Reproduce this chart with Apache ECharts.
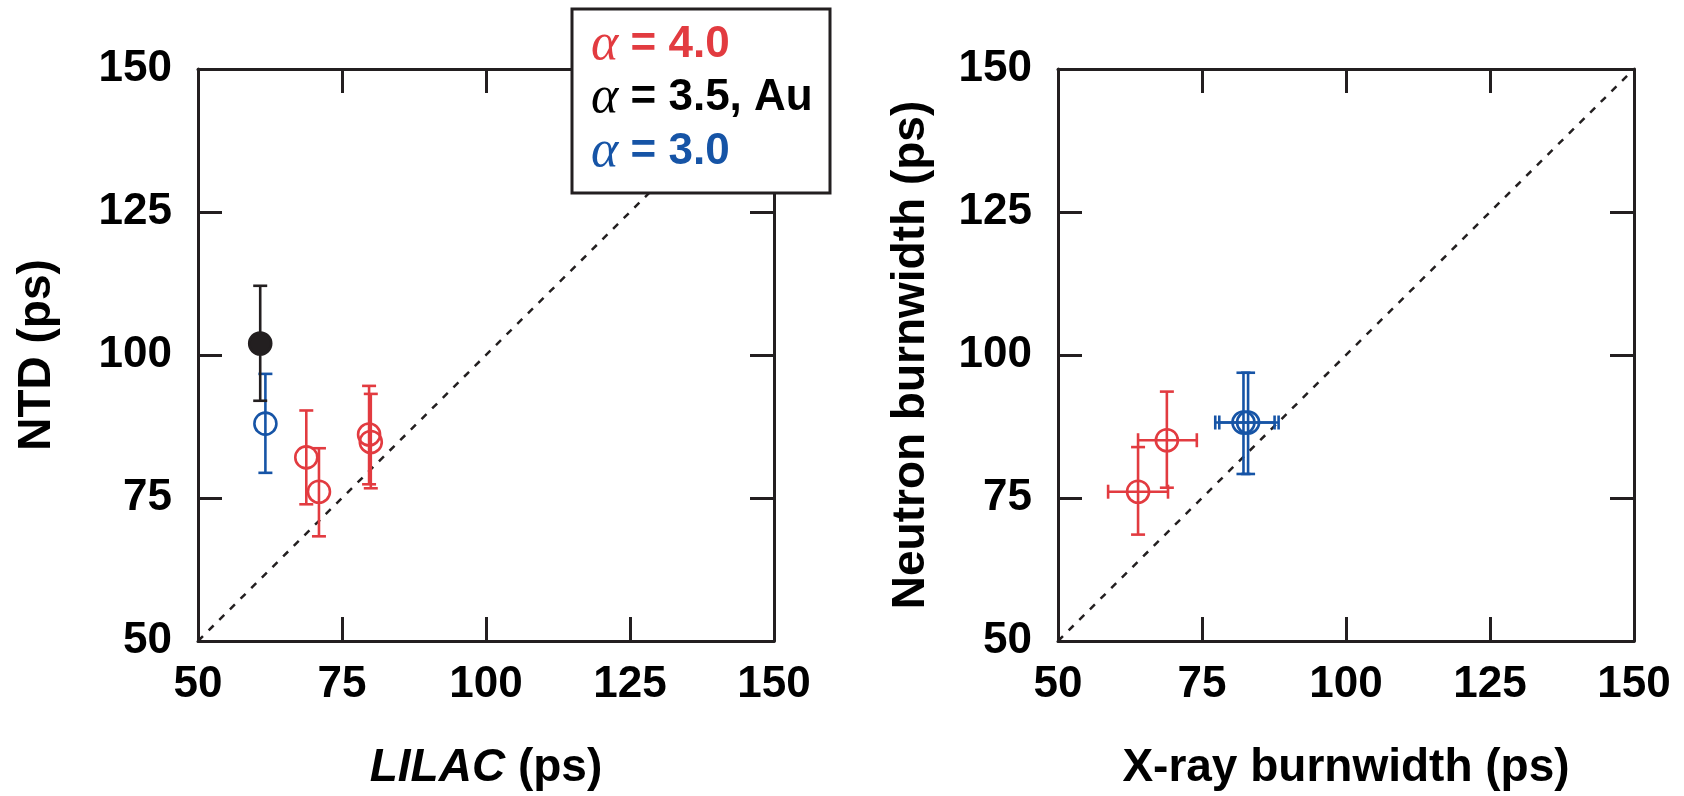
<!DOCTYPE html>
<html>
<head>
<meta charset="utf-8">
<script src="https://cdn.jsdelivr.net/npm/echarts@6/dist/echarts.min.js"></script>
<style>
  html, body { margin: 0; padding: 0; background: #fff; }
  #chart { width: 1684px; height: 796px; }
</style>
</head>
<body>
<div id="chart"></div>
<script>
var RED = '#e23b40', BLUE = '#1654a6', BLACK = '#231f20';

// left panel: NTD vs LILAC
var lilacRed = [68.8, 71.0, 79.7, 80.0];
var ntdRed = [82.1, 76.1, 86.1, 84.8];
var ntdRedLo = [73.9, 68.3, 77.4, 76.7];
var ntdRedHi = [90.3, 83.7, 94.6, 93.2];

var lilacAu = [60.8];
var ntdAu = [102.0];
var ntdAuLo = [92.0];
var ntdAuHi = [112.1];

var lilacBlue = [61.7];
var ntdBlue = [88.0];
var ntdBlueLo = [79.4];
var ntdBlueHi = [96.7];

// right panel: neutron vs x-ray burnwidth
var xrayRed = [63.9, 68.9];
var xrayRedLo = [58.7, 63.9];
var xrayRedHi = [69.1, 74.1];
var neutronRed = [76.1, 85.1];
var neutronRedLo = [68.6, 76.8];
var neutronRedHi = [83.9, 93.6];

var xrayBlue = [82.2, 83.0];
var xrayBlueLo = [77.3, 78.0];
var xrayBlueHi = [87.6, 88.3];
var neutronBlue = [88.2, 88.2];
var neutronBlueLo = [79.2, 79.2];
var neutronBlueHi = [96.9, 96.9];

var diagonal = [50, 150];

// rows: [x, y, xlo, xhi, ylo, yhi]
function rows(x, y, xlo, xhi, ylo, yhi) {
    var out = [];
    for (var i = 0; i < x.length; i++) {
        out.push([x[i], y[i], xlo ? xlo[i] : x[i], xhi ? xhi[i] : x[i], ylo[i], yhi[i]]);
    }
    return out;
}

function errRender(color, filled) {
    return function (params, api) {
        var x = api.value(0), y = api.value(1);
        var xl = api.value(2), xh = api.value(3), yl = api.value(4), yh = api.value(5);
        var c = api.coord([x, y]);
        var cap = 7, lw = 2.6;
        var st = { stroke: color, lineWidth: lw, fill: 'none' };
        var kids = [];
        var a = api.coord([x, yl]), b = api.coord([x, yh]);
        kids.push({ type: 'line', shape: { x1: a[0], y1: a[1], x2: b[0], y2: b[1] }, style: st });
        kids.push({ type: 'line', shape: { x1: a[0] - cap, y1: a[1], x2: a[0] + cap, y2: a[1] }, style: st });
        kids.push({ type: 'line', shape: { x1: b[0] - cap, y1: b[1], x2: b[0] + cap, y2: b[1] }, style: st });
        if (xl !== xh) {
            var l = api.coord([xl, y]), r = api.coord([xh, y]);
            kids.push({ type: 'line', shape: { x1: l[0], y1: l[1], x2: r[0], y2: r[1] }, style: st });
            kids.push({ type: 'line', shape: { x1: l[0], y1: l[1] - cap, x2: l[0], y2: l[1] + cap }, style: st });
            kids.push({ type: 'line', shape: { x1: r[0], y1: r[1] - cap, x2: r[0], y2: r[1] + cap }, style: st });
        }
        kids.push({
            type: 'circle', shape: { cx: c[0], cy: c[1], r: 11 },
            style: filled ? { fill: color, stroke: color, lineWidth: lw } : st
        });
        return { type: 'group', children: kids };
    };
}

var labelFont = { fontFamily: 'Liberation Sans', fontWeight: 'bold', fontSize: 44, color: '#000' };
var axisLine = { show: true, lineStyle: { color: BLACK, width: 3 } };
var axisTick = { show: true, inside: true, length: 24, lineStyle: { color: BLACK, width: 3 } };

function makeX(gi, name, nameGap, shown) {
    return {
        type: 'value', gridIndex: gi, min: 50, max: 150, interval: 25,
        position: shown ? 'bottom' : 'top',
        axisLine: axisLine, axisTick: axisTick, splitLine: { show: false },
        axisLabel: Object.assign({ show: shown, margin: 22, showMinLabel: true, showMaxLabel: true }, labelFont),
        name: shown ? name : '', nameLocation: 'middle', nameGap: nameGap,
        nameTextStyle: {
            fontFamily: 'Liberation Sans', fontWeight: 'bold', fontSize: 46, color: '#000',
            rich: { i: { fontFamily: 'Liberation Sans', fontWeight: 'bold', fontStyle: 'italic', fontSize: 46, color: '#000' } }
        }
    };
}
function makeY(gi, name, nameGap, shown) {
    return {
        type: 'value', gridIndex: gi, min: 50, max: 150, interval: 25,
        position: shown ? 'left' : 'right',
        axisLine: axisLine, axisTick: axisTick, splitLine: { show: false },
        axisLabel: Object.assign({ show: shown, margin: 26, showMinLabel: true, showMaxLabel: true }, labelFont),
        name: shown ? name : '', nameLocation: 'middle', nameGap: nameGap,
        nameTextStyle: { fontFamily: 'Liberation Sans', fontWeight: 'bold', fontSize: 46, color: '#000' }
    };
}

function errSeries(xi, yi, data, color, filled) {
    return {
        type: 'custom', xAxisIndex: xi, yAxisIndex: yi, data: data,
        renderItem: errRender(color, filled), z: 5, animation: false
    };
}
function diagSeries(xi, yi) {
    return {
        type: 'line', xAxisIndex: xi, yAxisIndex: yi, symbol: 'none', silent: true, z: 2,
        data: [[diagonal[0], diagonal[0]], [diagonal[1], diagonal[1]]],
        lineStyle: { color: BLACK, width: 2.5, type: [7, 8] }, animation: false
    };
}

function legendText(y, txt, color) {
    return {
        type: 'text', x: 591, y: y, z: 101,
        style: {
            text: '{a|α}{t| = ' + txt + '}',
            rich: {
                a: { fontFamily: 'Liberation Serif', fontStyle: 'italic', fontSize: 52, fill: color },
                t: { fontFamily: 'Liberation Sans', fontWeight: 'bold', fontSize: 44, fill: color }
            },
            verticalAlign: 'middle', fill: color
        }
    };
}

var chart = echarts.init(document.getElementById('chart'));
chart.setOption({
    animation: false,
    backgroundColor: '#fff',
    grid: [
        { left: 198, top: 69, width: 576, height: 575 },
        { left: 1058, top: 69, width: 576, height: 575 }
    ],
    xAxis: [
        makeX(0, '{i|LILAC} (ps)', 104, true),
        makeX(0, '', 0, false),
        makeX(1, 'X-ray burnwidth (ps)', 104, true),
        makeX(1, '', 0, false)
    ],
    yAxis: [
        makeY(0, 'NTD (ps)', 138, true),
        makeY(0, '', 0, false),
        makeY(1, 'Neutron burnwidth (ps)', 124, true),
        makeY(1, '', 0, false)
    ],
    series: [
        diagSeries(0, 0),
        errSeries(0, 0, rows(lilacRed, ntdRed, null, null, ntdRedLo, ntdRedHi), RED, false),
        errSeries(0, 0, rows(lilacBlue, ntdBlue, null, null, ntdBlueLo, ntdBlueHi), BLUE, false),
        errSeries(0, 0, rows(lilacAu, ntdAu, null, null, ntdAuLo, ntdAuHi), BLACK, true),
        diagSeries(2, 2),
        errSeries(2, 2, rows(xrayRed, neutronRed, xrayRedLo, xrayRedHi, neutronRedLo, neutronRedHi), RED, false),
        errSeries(2, 2, rows(xrayBlue, neutronBlue, xrayBlueLo, xrayBlueHi, neutronBlueLo, neutronBlueHi), BLUE, false)
    ],
    graphic: [
        {
            type: 'rect', z: 100,
            shape: { x: 572, y: 9, width: 258, height: 184 },
            style: { fill: '#fff', stroke: BLACK, lineWidth: 3 }
        },
        legendText(45, '4.0', RED),
        legendText(98, '3.5, Au', '#000'),
        legendText(152, '3.0', BLUE)
    ]
});
</script>
</body>
</html>
